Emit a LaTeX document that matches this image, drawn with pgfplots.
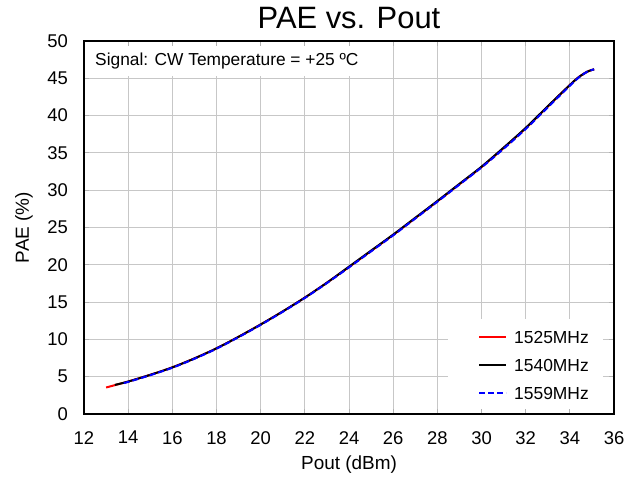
\documentclass[border=0pt]{standalone}
\usepackage{fontspec}
\setmainfont{Liberation Sans}
\usepackage{pgfplots}
\pgfplotsset{compat=1.18}
\usetikzlibrary{calc}
\pgfdeclarelayer{boxes}
\pgfplotsset{
  layers/mylayers/.define layer set={axis background,axis grid,boxes,axis ticks,axis lines,axis tick labels,pre main,main,axis descriptions,axis foreground}{
    grid style={/pgfplots/on layer=axis grid},
    tick style={/pgfplots/on layer=axis ticks},
    axis line style={/pgfplots/on layer=axis lines},
    label style={/pgfplots/on layer=axis descriptions},
    legend style={/pgfplots/on layer=axis descriptions},
    title style={/pgfplots/on layer=axis descriptions},
    ticklabel style={/pgfplots/on layer=axis tick labels},
    axis background@ style={/pgfplots/on layer=axis background},
    3d box foreground style={/pgfplots/on layer=axis foreground},
  },
}
\pgfplotstableread{
x y
13.0 3.55
13.5 3.95
14.0 4.35
15.0 5.25
16.0 6.25
17.0 7.45
18.0 8.80
19.0 10.35
20.0 12.00
21.0 13.75
22.0 15.60
23.0 17.60
24.0 19.70
25.0 21.85
26.0 24.00
27.0 26.25
28.0 28.50
29.0 30.80
30.0 33.10
31.0 35.65
32.0 38.30
33.0 41.20
34.0 44.10
34.4 45.15
34.8 45.90
35.1 46.20
}\redtab
\pgfplotstableread{
x y
13.4 3.90
14.0 4.35
15.0 5.25
16.0 6.25
17.0 7.45
18.0 8.80
19.0 10.35
20.0 12.00
21.0 13.75
22.0 15.60
23.0 17.60
24.0 19.75
25.0 21.90
26.0 24.05
27.0 26.30
28.0 28.55
29.0 30.85
30.0 33.15
31.0 35.70
32.0 38.35
33.0 41.25
34.0 44.10
34.4 45.15
34.8 45.90
35.1 46.20
}\blacktab
\pgfplotstableread{
x y
13.8 4.15
14.0 4.30
15.0 5.20
16.0 6.20
17.0 7.40
18.0 8.75
19.0 10.30
20.0 11.95
21.0 13.70
22.0 15.55
23.0 17.55
24.0 19.65
25.0 21.80
26.0 23.95
27.0 26.20
28.0 28.45
29.0 30.75
30.0 33.05
31.0 35.55
32.0 38.20
33.0 41.10
34.0 44.00
34.4 45.10
34.8 45.90
35.1 46.20
}\bluetab
\begin{document}
\begin{tikzpicture}
\begin{axis}[
  set layers=mylayers,
  scale only axis, width=530bp, height=373bp,
  xmin=12, xmax=36, ymin=0, ymax=50,
  xtick={12,14,...,36}, ytick={0,5,...,50},
  grid=major, grid style={black!22, line width=0.9bp},
  tick align=inside, major tick length=5bp,
  tick style={black!30, line width=0.9bp},
  axis line style={black, line width=1.2bp},
  ticklabel style={font=\fontsize{18.5}{22}\selectfont},
  /pgf/number format/assume math mode=true,
  xticklabel style={inner sep=0pt, anchor=north, yshift=-17bp},
  yticklabel style={inner sep=0pt, anchor=east, xshift=-16bp},
  title={PAE vs. Pout},
  title style={at={(axis description cs:0.5,1)}, anchor=base, inner sep=0pt, yshift=7bp, font=\fontsize{31}{36}\selectfont},
  xlabel={Pout (dBm)},
  xlabel style={at={([yshift=-55bp]axis description cs:0.5,0)}, anchor=base, inner sep=0pt, font=\fontsize{19}{22}\selectfont},
  ylabel={PAE (\%)},
  ylabel style={at={([xshift=-69bp]axis description cs:0,0.5)}, anchor=north, inner sep=0pt, font=\fontsize{19}{22}\selectfont},
  legend style={draw=none, fill=none, inner sep=0pt, at={(axis cs:29.84,11.2)}, anchor=north west,
    nodes={inner sep=0pt, text height=12.5bp, text depth=0pt, font=\fontsize{17.5}{21}\selectfont},
    column sep=7bp, row sep=15.5bp},
  legend cell align=left,
  legend image code/.code={\draw[#1] (0bp,0bp) -- (27bp,0bp);},
]
\begin{pgfonlayer}{boxes}
\fill[white] (axis cs:12,50) rectangle (axis cs:25,45.3);
\fill[white] (axis cs:28.5,0) rectangle (axis cs:35.5,12.8);
\end{pgfonlayer}
\addplot[red, line width=2bp, smooth] table {\redtab};
\addplot[black, line width=2bp, smooth] table {\blacktab};
\addplot[blue, line width=2bp, smooth, dash pattern=on 6bp off 3bp] table {\bluetab};
\legend{1525MHz,1540MHz,1559MHz}
\node[anchor=base west, inner sep=0pt, font=\fontsize{17.4}{21}\selectfont] at (axis cs:12.5,46.78) {Signal: CW Temperature = +25 ºC};
\begin{pgfonlayer}{axis foreground}
\draw[black, line width=2.2bp] (rel axis cs:0,1) -- (rel axis cs:0,0) -- (rel axis cs:1,0);
\end{pgfonlayer}
\end{axis}
\pgfresetboundingbox
\path ($(current axis.south west)+(-84bp,-64bp)$) rectangle ($(current axis.north east)+(27bp,41bp)$);
\end{tikzpicture}
\end{document}
